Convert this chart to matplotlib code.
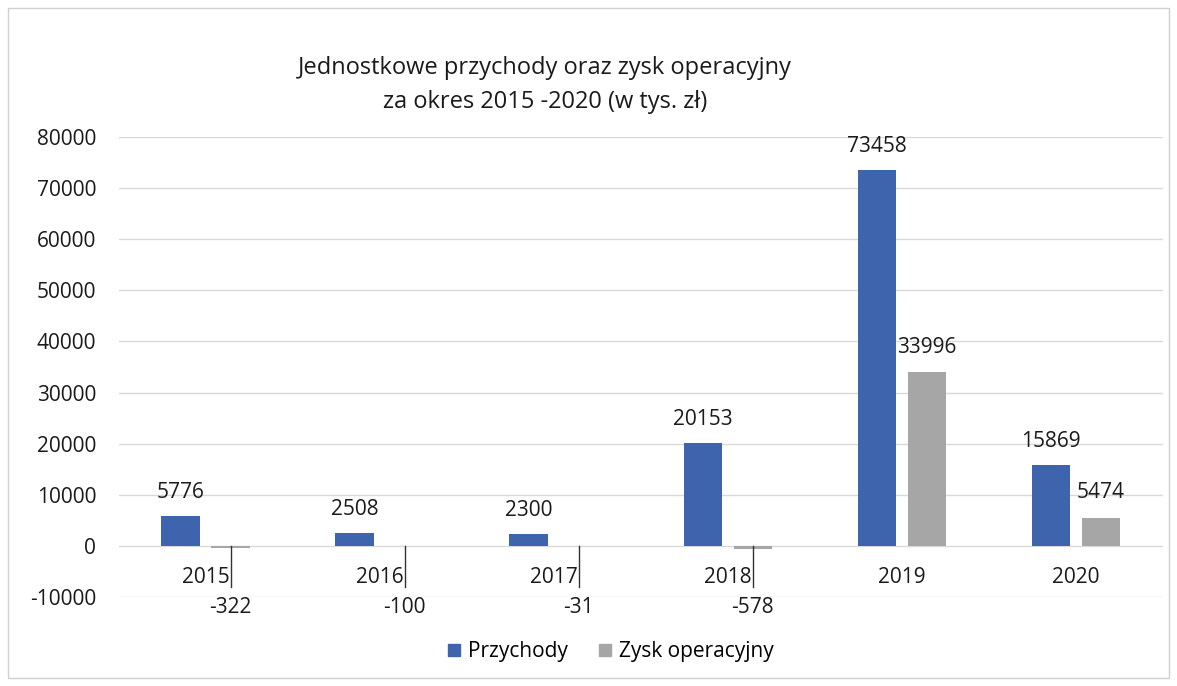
import matplotlib
matplotlib.use("Agg")
import matplotlib.pyplot as plt
import numpy as np
from matplotlib.patches import Rectangle

years = ["2015", "2016", "2017", "2018", "2019", "2020"]
przychody = [5776, 2508, 2300, 20153, 73458, 15869]
zysk = [-322, -100, -31, -578, 33996, 5474]
yticks = [-10000, 0, 10000, 20000, 30000, 40000, 50000, 60000, 70000, 80000]

BLUE = "#3E64AE"
GRAY = "#A6A6A6"
TXT = "#1a1a1a"
FS = 15
plt.rcParams['font.family'] = ['Open Sans', 'DejaVu Sans']

fig = plt.figure(figsize=(11.77, 6.86), dpi=100)
ax = fig.add_axes([118.5 / 1177, 1 - 597 / 686, (1163 - 118.5) / 1177, 460 / 686])

x = np.arange(len(years))
w = 0.22
off = 0.144
ax.bar(x - off, przychody, w, color=BLUE, zorder=3)
ax.bar(x + off, zysk, w, color=GRAY, zorder=3)

ax.set_xlim(-0.5, len(years) - 0.5)
ax.set_ylim(-10000, 80000)
ax.set_yticks(yticks)
ax.set_yticklabels([str(v) for v in yticks], fontsize=FS, color=TXT)
ax.tick_params(axis='y', length=0, pad=16)
ax.set_xticks([])
ax.grid(axis='y', color="#d9d9d9", linewidth=1.0, zorder=0)
for s in ax.spines.values():
    s.set_visible(False)

# category labels near zero line
for i, yr in enumerate(years):
    ax.text(x[i], -6100, yr, ha='center', va='center', fontsize=FS, color=TXT)

# data labels
for i, v in enumerate(przychody):
    ax.text(x[i] - off, v + 4600, str(v), ha='center', va='center', fontsize=FS, color=TXT)
for i, v in enumerate(zysk):
    if v >= 0:
        ax.text(x[i] + off, v + 4900, str(v), ha='center', va='center', fontsize=FS, color=TXT)
    else:
        ax.text(x[i] + off, -12100, str(v), ha='center', va='center', fontsize=FS,
                color=TXT, clip_on=False)
        ax.plot([x[i] + off, x[i] + off], [0, -8000], color="#333333",
                linewidth=1.0, zorder=4)

fig.text(545 / 1177, 1 - 68 / 686, "Jednostkowe przychody oraz zysk operacyjny",
         ha='center', va='center', fontsize=17, color=TXT)
fig.text(545 / 1177, 1 - 102 / 686, "za okres 2015 -2020 (w tys. zł)",
         ha='center', va='center', fontsize=17, color=TXT)

handles = [Rectangle((0, 0), 1, 1, color=BLUE), Rectangle((0, 0), 1, 1, color=GRAY)]
fig.legend(handles, ["Przychody", "Zysk operacyjny"], loc='center',
           bbox_to_anchor=(611 / 1177, 1 - 652 / 686), ncol=2, frameon=False,
           fontsize=FS, handlelength=0.55, handleheight=0.55, handletextpad=0.4,
           columnspacing=1.5)

# faint outer frame
fig.patches.append(Rectangle((8 / 1177, 8 / 686), 1 - 16 / 1177, 1 - 16 / 686,
                             transform=fig.transFigure, fill=False,
                             edgecolor="#d0d0d0", linewidth=1.0))

fig.savefig("out.png", dpi=100)
